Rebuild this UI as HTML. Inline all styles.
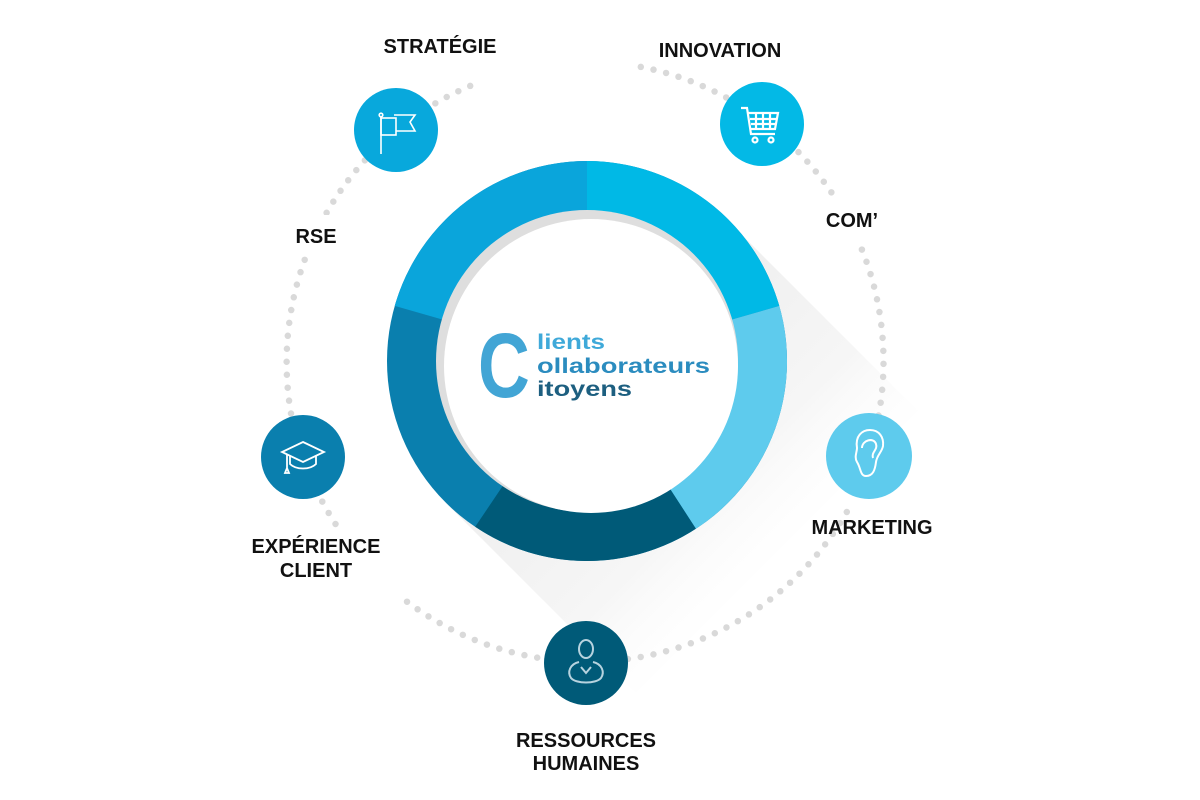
<!DOCTYPE html>
<html><head><meta charset="utf-8"><style>
html,body{margin:0;padding:0;background:#fff;}
svg{display:block;}
.lb{font-family:"Liberation Sans",sans-serif;font-weight:bold;font-size:20px;fill:#111;text-anchor:middle;}
</style></head><body>
<svg width="1200" height="800" viewBox="0 0 1200 800" xmlns="http://www.w3.org/2000/svg">
<defs>
<linearGradient id="sh" gradientUnits="userSpaceOnUse" x1="587" y1="361" x2="800" y2="574">
<stop offset="0" stop-color="#eeeeee"/><stop offset="0.6" stop-color="#f6f6f6"/><stop offset="1" stop-color="#fff" stop-opacity="0"/>
</linearGradient>
</defs>
<polygon points="728,221 918,411 636,693 446,503" fill="url(#sh)"/>
<g fill="none" stroke="#d9d9d9" stroke-width="6.5" stroke-linecap="round" stroke-dasharray="0 13">
<path d="M 470.2 85.9 A 300 300 0 0 0 305.3 466.6"/>
<path d="M 640.8 66.9 A 300 300 0 0 1 876.5 425.9"/>
<path d="M 846.8 512 A 300 300 0 0 1 405.4 600.5"/>
<path d="M 335.5 524 A 300 300 0 0 1 303 457"/>
</g>
<rect x="270" y="215" width="80" height="40" fill="#fff"/>
<rect x="800" y="198" width="95" height="46" fill="#fff"/>
<g transform="translate(587,361)">
<circle r="200" fill="#0a7fae"/>
<path d="M0,0 L0,-200 A200,200 0 0 0 -192.3,-55.1 Z" fill="#0aa5db"/>
<path d="M0,0 L0,-200 A200,200 0 0 1 192.3,-55.1 Z" fill="#00b9e6"/>
<path d="M0,0 L192.3,-55.1 A200,200 0 0 1 108.9,167.7 Z" fill="#5ecbed"/>
<path d="M0,0 L108.9,167.7 A200,200 0 0 1 -111.8,165.8 Z" fill="#005a78"/>
<circle r="151" fill="#dedede"/>
<circle r="147" cx="4" cy="5" fill="#fff"/>
</g>
<text x="478" y="397" font-family="Liberation Sans,sans-serif" font-weight="bold" font-size="92" fill="#42a5d5" transform="translate(478,0) scale(0.78,1) translate(-478,0)">C</text>
<text x="537" y="349" font-family="Liberation Sans,sans-serif" font-weight="bold" font-size="21" fill="#3fa9d9" textLength="68" lengthAdjust="spacingAndGlyphs">lients</text>
<text x="537" y="373" font-family="Liberation Sans,sans-serif" font-weight="bold" font-size="21" fill="#2b8cbf" textLength="173" lengthAdjust="spacingAndGlyphs">ollaborateurs</text>
<text x="537" y="396" font-family="Liberation Sans,sans-serif" font-weight="bold" font-size="21" fill="#1d5f80" textLength="95" lengthAdjust="spacingAndGlyphs">itoyens</text>
<circle cx="396" cy="130" r="42" fill="#08a8dc"/>
<circle cx="762" cy="124" r="42" fill="#03b9e6"/>
<circle cx="869" cy="456" r="43" fill="#5ecbed"/>
<circle cx="303" cy="457" r="42" fill="#0a7fae"/>
<circle cx="586" cy="663" r="42" fill="#005a78"/>
<g stroke="#fff" stroke-width="1.6" fill="none">
<line x1="381" y1="116" x2="381" y2="154"/><circle cx="381" cy="115" r="1.8"/>
<rect x="381" y="118" width="15" height="17"/>
<path d="M394,115 L415,115 L410,122 L415,131 L396,131"/>
</g>
<g stroke="#fff" stroke-width="2.2" fill="none">
<path d="M741,108 L747,108 L751,134 L775,134"/>
<path d="M748,113 L778,113 L775,129 L751,129"/>
<path d="M756,113 V129 M763,113 V129 M770,113 V129 M750,119 H777 M751,124 H776"/>
<circle cx="755" cy="140" r="2.5"/><circle cx="771" cy="140" r="2.5"/>
</g>
<g stroke="#fff" stroke-width="2" fill="none">
<path d="M857,448 C855,436 862,430 870,430 C879,430 884,437 883,446 C882,452 877,455 876,462 C875,470 873,476 866,476 C860,476 861,468 857,462 C854,457 857,452 857,448 Z"/>
<path d="M862,448 C862,440 874,437 876,444 C878,450 871,452 873,458"/>
</g>
<g stroke="#fff" stroke-width="1.8" fill="none">
<path d="M303,442 L324,452 L303,462 L282,452 Z"/>
<path d="M290,456 V464 C296,470 310,470 316,464 V456"/>
<path d="M287,454 V468 M285,473 L287,468 L289,473 Z"/>
</g>
<g stroke="#b7d3df" stroke-width="2" fill="none">
<ellipse cx="586" cy="649" rx="7" ry="9"/>
<path d="M579,662 C570,664 567,672 571,678 C576,684 596,684 601,678 C605,672 602,664 593,662"/>
<path d="M581,667 L586,673 L591,667"/>
</g>
<text class="lb" x="440" y="53">STRATÉGIE</text>
<text class="lb" x="720" y="57">INNOVATION</text>
<text class="lb" x="852" y="227">COM’</text>
<text class="lb" x="316" y="243">RSE</text>
<text class="lb" x="872" y="534">MARKETING</text>
<text class="lb" x="316" y="553">EXPÉRIENCE</text>
<text class="lb" x="316" y="577">CLIENT</text>
<text class="lb" x="586" y="747">RESSOURCES</text>
<text class="lb" x="586" y="770">HUMAINES</text>
</svg>
</body></html>
